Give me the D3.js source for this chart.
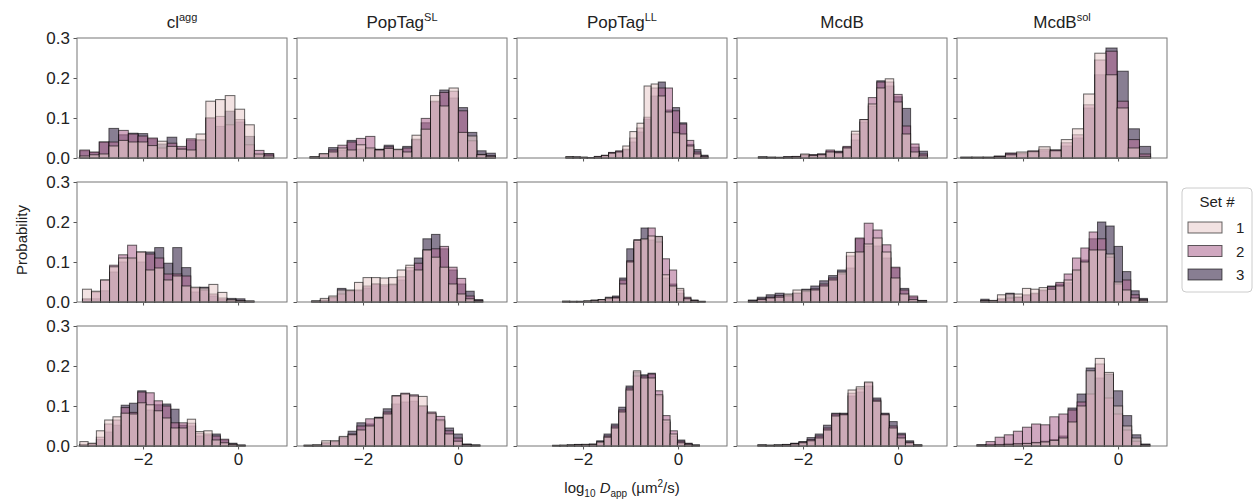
<!DOCTYPE html>
<html>
<head>
<meta charset="utf-8">
<script src="https://cdn.jsdelivr.net/npm/d3@7"></script>
<style>
  body { margin: 0; background: #fff; }
  text { font-family: "Liberation Sans", Arial, sans-serif; fill: #222; }
</style>
</head>
<body>
<div id="chart"></div>
<script>
// column titles: base text + superscript
let titles = [['cl', 'agg'], ['PopTag', 'SL'], ['PopTag', 'LL'], ['McdB', ''], ['McdB', 'sol']];
let setNames = ['1', '2', '3'];
let yTicks = [0.0, 0.1, 0.2, 0.3];
let xTicks = [-2, 0];

// left edge of the first bin and bin width, per row / column
let binStart = [
    [-3.33, -3.115, -2.36, -2.94, -3.31],
    [-3.275, -3.08, -2.43, -3.15, -2.89],
    [-3.33, -3.24, -2.64, -2.95, -2.97]
];
let binWidth = [
    [0.204, 0.195, 0.1495, 0.178, 0.235],
    [0.19, 0.18, 0.15, 0.1875, 0.1755],
    [0.174, 0.185, 0.1545, 0.1725, 0.1916]
];

// probabilities per bin, [set 1, set 2, set 3]
let r1c1 = [
    [0.005,0.008,0.01,0.03,0.044,0.04,0.04,0.031,0.042,0.029,0.022,0.02,0.06,0.142,0.146,0.156,0.122,0.083,0.01,0.005],
    [0.02,0.015,0.04,0.04,0.069,0.06,0.055,0.05,0.025,0.037,0.029,0.048,0.045,0.10,0.104,0.083,0.096,0.033,0.019,0.01],
    [0.018,0.014,0.04,0.074,0.058,0.062,0.061,0.048,0.035,0.052,0.025,0.045,0.045,0.10,0.079,0.117,0.09,0.054,0.008,0.011]
];
let r1c2 = [
    [0.003,0.011,0.015,0.025,0.02,0.033,0.025,0.02,0.024,0.022,0.015,0.057,0.072,0.156,0.13,0.175,0.064,0.055,0.008,0.004],
    [0.003,0.01,0.02,0.032,0.04,0.049,0.054,0.021,0.028,0.02,0.025,0.047,0.099,0.142,0.164,0.167,0.118,0.043,0.009,0.006],
    [0.002,0.009,0.026,0.02,0.044,0.022,0.022,0.022,0.032,0.021,0.029,0.045,0.088,0.14,0.17,0.15,0.126,0.064,0.018,0.012]
];
let r1c3 = [
    [0.003,0.002,0.002,0.001,0.003,0.006,0.012,0.015,0.03,0.066,0.087,0.18,0.185,0.155,0.115,0.063,0.06,0.03,0.01,0.003],
    [0.002,0.003,0.001,0.001,0.004,0.007,0.014,0.018,0.022,0.05,0.075,0.102,0.175,0.175,0.175,0.118,0.085,0.044,0.015,0.005],
    [0.003,0.002,0.002,0.001,0.003,0.006,0.013,0.016,0.02,0.04,0.065,0.097,0.155,0.19,0.12,0.126,0.088,0.034,0.021,0.007]
];
let r1c4 = [
    [0.002,0.001,0.001,0.002,0.003,0.01,0.006,0.008,0.015,0.013,0.025,0.067,0.096,0.135,0.175,0.198,0.14,0.06,0.015,0.005],
    [0.002,0.002,0.002,0.003,0.004,0.008,0.008,0.01,0.02,0.015,0.029,0.06,0.096,0.151,0.19,0.19,0.159,0.08,0.035,0.01],
    [0.003,0.002,0.001,0.003,0.003,0.007,0.008,0.01,0.017,0.017,0.027,0.045,0.09,0.13,0.193,0.18,0.153,0.124,0.027,0.017]
];
let r1c5 = [
    [0.001,0.002,0.001,0.003,0.008,0.015,0.016,0.028,0.018,0.046,0.073,0.16,0.262,0.208,0.125,0.025,0.004],
    [0.002,0.001,0.002,0.004,0.012,0.012,0.018,0.022,0.02,0.038,0.058,0.133,0.245,0.267,0.142,0.046,0.01],
    [0.002,0.002,0.002,0.005,0.012,0.01,0.014,0.018,0.02,0.03,0.05,0.125,0.208,0.275,0.217,0.073,0.029]
];
let r2c1 = [
    [0.032,0.027,0.055,0.088,0.11,0.11,0.125,0.08,0.085,0.055,0.065,0.04,0.037,0.035,0.044,0.024,0.006,0.003,0.003],
    [0.008,0.025,0.055,0.092,0.118,0.142,0.125,0.12,0.11,0.07,0.07,0.065,0.035,0.03,0.02,0.01,0.004,0.004,0.002],
    [0.006,0.008,0.028,0.075,0.1,0.108,0.1,0.125,0.136,0.097,0.136,0.086,0.025,0.037,0.015,0.006,0.009,0.008,0.001]
];
let r2c2 = [
    [0.003,0.009,0.015,0.03,0.03,0.049,0.061,0.061,0.06,0.061,0.08,0.092,0.08,0.13,0.112,0.087,0.045,0.02,0.008,0.002],
    [0.002,0.005,0.012,0.02,0.028,0.03,0.04,0.045,0.043,0.043,0.063,0.086,0.097,0.13,0.133,0.139,0.087,0.059,0.015,0.004],
    [0.002,0.004,0.01,0.034,0.028,0.028,0.035,0.045,0.04,0.045,0.055,0.078,0.11,0.158,0.169,0.133,0.08,0.045,0.027,0.006]
];
let r2c3 = [
    [0.002,0.002,0.001,0.003,0.004,0.006,0.01,0.01,0.045,0.1,0.154,0.158,0.165,0.164,0.068,0.04,0.034,0.008,0.003,0.001],
    [0.001,0.001,0.002,0.002,0.003,0.005,0.008,0.012,0.055,0.103,0.156,0.156,0.185,0.15,0.108,0.08,0.03,0.012,0.004,0.002],
    [0.002,0.001,0.001,0.002,0.005,0.006,0.012,0.015,0.06,0.133,0.15,0.185,0.155,0.163,0.06,0.045,0.022,0.01,0.005,0.001]
];
let r2c4 = [
    [0.002,0.006,0.01,0.012,0.02,0.03,0.03,0.03,0.04,0.055,0.075,0.124,0.125,0.145,0.16,0.125,0.06,0.02,0.006,0.002],
    [0.003,0.008,0.012,0.016,0.015,0.022,0.026,0.033,0.045,0.06,0.07,0.115,0.16,0.197,0.18,0.143,0.087,0.03,0.015,0.003],
    [0.005,0.012,0.018,0.022,0.018,0.022,0.032,0.04,0.053,0.066,0.08,0.085,0.158,0.14,0.14,0.11,0.085,0.034,0.012,0.004]
];
let r2c5 = [
    [0.003,0.004,0.018,0.02,0.02,0.034,0.032,0.036,0.032,0.04,0.055,0.08,0.1,0.13,0.13,0.12,0.05,0.03,0.01,0.004],
    [0.004,0.003,0.008,0.01,0.012,0.018,0.022,0.03,0.038,0.049,0.07,0.11,0.135,0.175,0.158,0.112,0.045,0.055,0.018,0.006],
    [0.007,0.003,0.006,0.022,0.012,0.016,0.02,0.028,0.04,0.045,0.048,0.078,0.105,0.158,0.2,0.19,0.139,0.076,0.028,0.009]
];
let r3c1 = [
    [0.011,0.007,0.038,0.065,0.073,0.082,0.08,0.108,0.103,0.088,0.07,0.045,0.045,0.067,0.036,0.038,0.015,0.008,0.004,0.001],
    [0.004,0.006,0.022,0.055,0.065,0.096,0.084,0.135,0.133,0.113,0.1,0.058,0.058,0.057,0.032,0.03,0.025,0.017,0.005,0.001],
    [0.003,0.004,0.016,0.035,0.052,0.102,0.107,0.138,0.09,0.103,0.105,0.092,0.052,0.05,0.025,0.026,0.03,0.015,0.007,0.003]
];
let r3c2 = [
    [0.002,0.003,0.013,0.013,0.024,0.028,0.04,0.05,0.07,0.08,0.125,0.13,0.125,0.124,0.082,0.065,0.03,0.012,0.003,0.001],
    [0.001,0.002,0.008,0.012,0.022,0.03,0.05,0.068,0.07,0.085,0.126,0.132,0.128,0.1,0.085,0.074,0.038,0.02,0.004,0.002],
    [0.002,0.002,0.007,0.01,0.02,0.037,0.058,0.055,0.072,0.093,0.105,0.11,0.112,0.1,0.08,0.062,0.045,0.03,0.005,0.003]
];
let r3c3 = [
    [0.001,0.002,0.002,0.003,0.004,0.004,0.01,0.022,0.045,0.085,0.14,0.188,0.17,0.17,0.128,0.065,0.03,0.008,0.004,0.001],
    [0.001,0.001,0.002,0.003,0.003,0.004,0.01,0.025,0.05,0.09,0.145,0.175,0.175,0.18,0.138,0.076,0.038,0.012,0.006,0.002],
    [0.002,0.002,0.003,0.004,0.004,0.005,0.013,0.03,0.055,0.097,0.15,0.185,0.178,0.182,0.125,0.06,0.025,0.015,0.007,0.003]
];
let r3c4 = [
    [0.002,0.001,0.002,0.003,0.005,0.008,0.013,0.02,0.04,0.075,0.078,0.14,0.148,0.16,0.112,0.078,0.045,0.02,0.008,0.002],
    [0.002,0.002,0.002,0.003,0.006,0.01,0.016,0.025,0.045,0.08,0.08,0.132,0.143,0.158,0.115,0.08,0.05,0.028,0.01,0.002],
    [0.003,0.002,0.003,0.004,0.007,0.011,0.021,0.03,0.052,0.082,0.082,0.125,0.135,0.15,0.12,0.082,0.061,0.032,0.013,0.003]
];
let r3c5 = [
    [0.001,0.002,0.003,0.004,0.005,0.006,0.008,0.01,0.014,0.02,0.06,0.1,0.188,0.219,0.184,0.1,0.05,0.02,0.002],
    [0.003,0.011,0.022,0.028,0.037,0.047,0.055,0.053,0.073,0.08,0.09,0.11,0.13,0.205,0.12,0.08,0.04,0.012,0.003],
    [0.003,0.004,0.004,0.005,0.006,0.007,0.009,0.012,0.016,0.025,0.095,0.13,0.195,0.17,0.18,0.138,0.076,0.028,0.005]
];

let panels = [
    [r1c1, r1c2, r1c3, r1c4, r1c5],
    [r2c1, r2c2, r2c3, r2c4, r2c5],
    [r3c1, r3c2, r3c3, r3c4, r3c5]
];

let colors = ['#e9cfcf', '#b16e96', '#38284a'];
let alpha = 0.6;

let width = 1254, height = 504;
let panelW = 210, panelH = 120;
let left0 = 77, colStep = 220;
let top0 = 38, rowStep = 144;

let svg = d3.select('#chart')
    .append('svg')
    .attr('width', width)
    .attr('height', height);

let x = d3.scaleLinear().domain([-3.39, 1.03]).range([0, panelW]);
let y = d3.scaleLinear().domain([0, 0.3]).range([panelH, 0]);

panels.forEach((row, r) => {
    row.forEach((sets, c) => {
        let g = svg.append('g')
            .attr('transform', `translate(${left0 + c * colStep}, ${top0 + r * rowStep})`);

        // set 3 is drawn first, set 1 last (on top)
        [2, 1, 0].forEach(s => {
            let bins = sets[s].map((v, i) => ({
                x0: binStart[r][c] + i * binWidth[r][c],
                x1: binStart[r][c] + (i + 1) * binWidth[r][c],
                v: v
            }));
            g.append('g')
                .selectAll('rect')
                .data(bins)
                .enter()
                .append('rect')
                    .attr('x', d => x(d.x0))
                    .attr('y', d => y(d.v))
                    .attr('width', d => x(d.x1) - x(d.x0))
                    .attr('height', d => y(0) - y(d.v))
                    .attr('fill', colors[s])
                    .attr('fill-opacity', alpha)
                    .attr('stroke', '#000')
                    .attr('stroke-opacity', alpha)
                    .attr('stroke-width', 1);
        });

        let yAxis = g.append('g')
            .call(d3.axisLeft(y).tickValues(yTicks).tickSize(3.5).tickPadding(3.5)
                .tickFormat(c === 0 ? d3.format('.1f') : ''));
        let xAxis = g.append('g')
            .attr('transform', `translate(0, ${panelH})`)
            .call(d3.axisBottom(x).tickValues(xTicks).tickSize(3.5).tickPadding(3.5)
                .tickFormat(r === 2 ? d3.format('d') : ''));
        [yAxis, xAxis].forEach(a => {
            a.select('.domain').remove();
            a.selectAll('line').attr('stroke', '#555');
            a.selectAll('text').style('font-size', '17px').attr('fill', '#222');
        });

        g.append('rect')
            .attr('x', 0).attr('y', 0)
            .attr('width', panelW).attr('height', panelH)
            .attr('fill', 'none')
            .attr('stroke', '#777')
            .attr('stroke-width', 1);

        if (r === 0) {
            let t = g.append('text')
                .attr('x', panelW / 2)
                .attr('y', -10)
                .attr('text-anchor', 'middle')
                .style('font-size', '17px')
                .text(titles[c][0]);
            if (titles[c][1]) {
                t.append('tspan')
                    .attr('dy', -7)
                    .style('font-size', '11px')
                    .text(titles[c][1]);
            }
        }
    });
});

// y label
svg.append('text')
    .attr('transform', 'translate(27, 240) rotate(-90)')
    .attr('text-anchor', 'middle')
    .style('font-size', '15px')
    .text('Probability');

// x label: log10 Dapp (µm²/s)
let xl = svg.append('text')
    .attr('x', 622)
    .attr('y', 493)
    .attr('text-anchor', 'middle')
    .style('font-size', '15px');
xl.append('tspan').text('log');
xl.append('tspan').attr('dy', 4).style('font-size', '10px').text('10');
xl.append('tspan').attr('dy', -4).text(' ');
xl.append('tspan').style('font-style', 'italic').text('D');
xl.append('tspan').attr('dy', 4).style('font-size', '10px').text('app');
xl.append('tspan').attr('dy', -4).text(' (µm');
xl.append('tspan').attr('dy', -6).style('font-size', '10px').text('2');
xl.append('tspan').attr('dy', 6).text('/s)');

// legend
let lg = svg.append('g').attr('transform', 'translate(1182, 188)');
lg.append('rect')
    .attr('width', 70).attr('height', 104)
    .attr('rx', 4)
    .attr('fill', '#fff')
    .attr('stroke', '#ccc');
lg.append('text')
    .attr('x', 35).attr('y', 19)
    .attr('text-anchor', 'middle')
    .style('font-size', '15px')
    .text('Set #');
setNames.forEach((name, i) => {
    lg.append('rect')
        .attr('x', 6).attr('y', 34 + i * 23.5)
        .attr('width', 34).attr('height', 11)
        .attr('fill', colors[i])
        .attr('fill-opacity', alpha)
        .attr('stroke', '#000')
        .attr('stroke-opacity', alpha);
    lg.append('text')
        .attr('x', 54).attr('y', 45 + i * 23.5)
        .style('font-size', '15px')
        .text(name);
});
</script>
</body>
</html>
